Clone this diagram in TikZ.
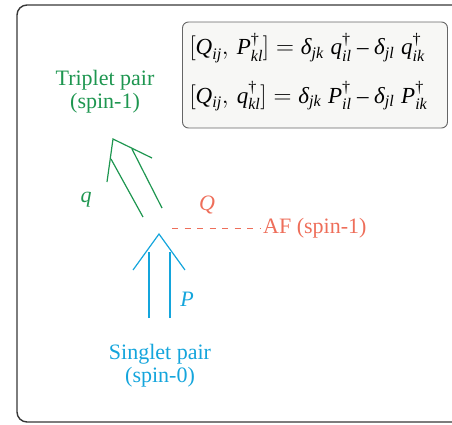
\documentclass[tikz,border=0pt]{standalone}
\usepackage{amsmath}
\usepackage{fontspec}
\setmainfont{Liberation Serif}
\usetikzlibrary{positioning}
\definecolor{trip}{RGB}{30,150,80}
\definecolor{sing}{RGB}{20,165,220}
\definecolor{afred}{RGB}{238,110,90}
\definecolor{framegray}{RGB}{55,55,55}
\definecolor{boxfill}{RGB}{247,247,245}
\newcommand{\vi}[1]{\textit{#1}}
\newcommand{\dg}{\text{†}}
\newcommand{\mn}{\mathbin{\text{–}}}

\begin{document}
\begin{tikzpicture}[x=1pt, y=-1pt,
  lab/.style={font=\fontsize{22}{23}\selectfont, align=center, inner sep=0pt},
  sym/.style={font=\fontsize{22}{23}\selectfont\itshape, inner sep=0pt},
  eqbox/.style={draw=black!60, fill=boxfill, rounded corners=6pt, line width=0.9pt, align=left, text width=251pt, inner xsep=7pt, minimum height=106pt, font=\fontsize{23}{25}\selectfont},
  arr/.style={line width=1.2pt}]
\useasboundingbox (0,0) rectangle (452,424);
\draw[framegray, line width=1.4pt, rounded corners=10pt] (17,5) rectangle (480,422);
% commutators
\node[eqbox] (comm) at (315,75) {$[\vi{Q}_{\vi{ij}},\, \vi{P}^{\dg}_{\vi{kl}}] = \vi{δ}_{\vi{jk}}\; \vi{q}^{\dg}_{\vi{il}} \mn \vi{δ}_{\vi{jl}}\; \vi{q}^{\dg}_{\vi{ik}}$\\[18pt]
  $[\vi{Q}_{\vi{ij}},\, \vi{q}^{\dg}_{\vi{kl}}] = \vi{δ}_{\vi{jk}}\; \vi{P}^{\dg}_{\vi{il}} \mn \vi{δ}_{\vi{jl}}\; \vi{P}^{\dg}_{\vi{ik}}$\\[-11pt]\mbox{}};
% labels
\node[lab, trip] (triplet) at (105,92) {Triplet pair\\(spin-1)};
\node[lab, sing] (singlet) at (160,366) {Singlet pair\\(spin-0)};
\node[lab, afred, anchor=west] (af) at (263,228) {AF (spin-1)};
\node[sym, trip] (qlab) at (86,200) {q};
\node[sym, afred] (Qlab) at (207,205) {Q};
\node[sym, sing] (Plab) at (187,299) {P};
% q arrow (triplet)
\coordinate (qtip) at (113,139);
\draw[arr, trip] (107,182) -- (qtip) -- (152,158);
\draw[arr, trip] (143,217) -- (111,159);
\draw[arr, trip] (162,208) -- (132,149);
% P arrow (singlet)
\coordinate (ptip) at (159,234);
\draw[arr, sing] (133,270) -- (ptip) -- (185,270);
\draw[arr, sing] (149,318) -- (149,252);
\draw[arr, sing] (170,318) -- (170,252);
% Q line
\coordinate (qline) at (172,228);
\draw[afred, line width=1pt, dash pattern=on 6pt off 6.5pt] (qline) -- ([xshift=-3pt]af.west);
\end{tikzpicture}
\end{document}
